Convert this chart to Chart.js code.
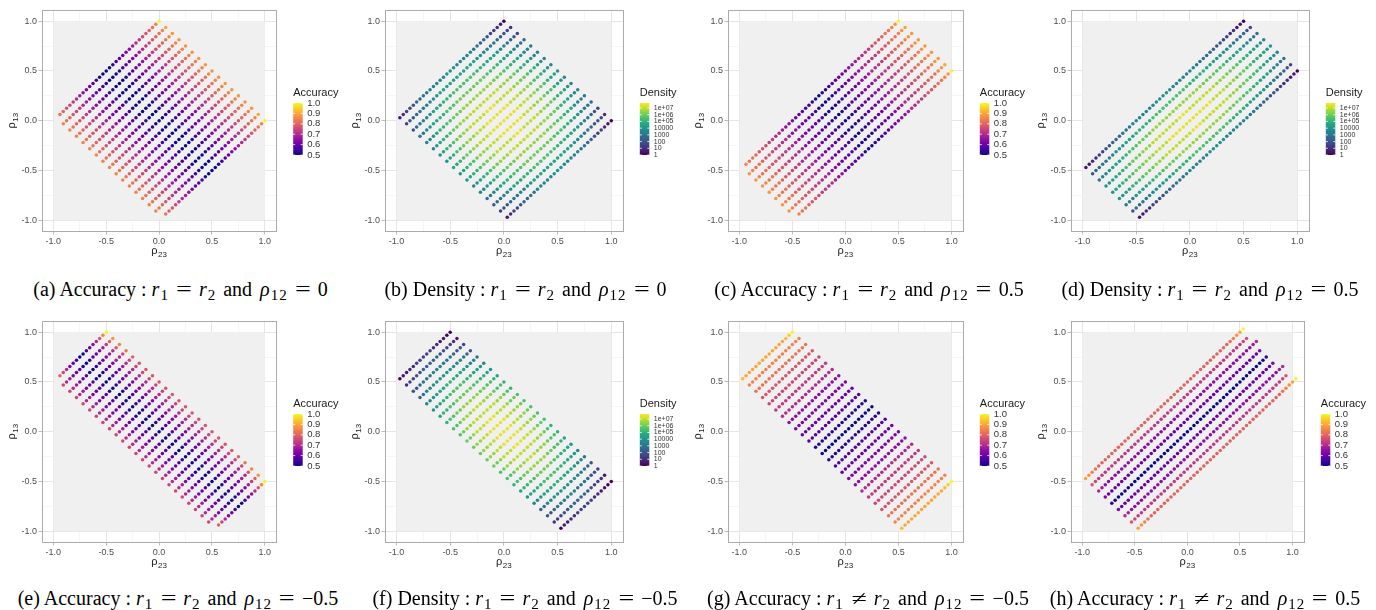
<!DOCTYPE html>
<html>
<head>
<meta charset="utf-8">
<script src="https://cdn.jsdelivr.net/npm/chart.js@4.4.1/dist/chart.umd.min.js"></script>
<style>
  body { margin: 0; background: #fff; width: 1376px; height: 610px; position: relative; overflow: hidden; }
  canvas { position: absolute; }
  .cap {
    position: absolute; white-space: nowrap; transform: translate(-50%, -50%);
    font-family: "Liberation Serif", serif; font-size: 20px; color: #000;
  }
  .cap sub { font-size: 15px; vertical-align: -4px; line-height: 0; margin-left: 1px; letter-spacing: 1px; }
  .cap .op { display: inline-block; width: 16px; text-align: center; margin: 0 7px; transform: scaleX(1.4); }
  .cap .w { margin: 0 8px 0 7px; }
</style>
</head>
<body>
<script>
// ---- values ----
// each string is one line of grid points (lower-left end first), one char per point, '.' = no point
// accuracy code: index in ACC_KEY -> 0.5 + 0.025 * index
const ACC_KEY = '0123456789abcdefghijk';
// density code: hex digit -> log10(density) = digit / 2
const DENS_KEY = '0123456789abcdef';

const accA = [
  '..dcba987654321000123456789abcdek',
  '.edcba987654321000123456789abcdeg',
  '.edcba987654321000123456789abcdef',
  '.edcba987654321000123456789abcdef',
  '.edcba987654321000123456789abcdef',
  '.edcba987654321000123456789abcdef',
  '.edcba987654321000123456789abcdef',
  '.edcba987654321000123456789abcdef',
  '.edcba987654321000123456789abcdef',
  '.edcba987654321000123456789abcdef',
  '.edcba987654321000123456789abcdef',
  '.edcba987654321000123456789abcdef',
  '.edcba987654321000123456789abcdef',
  '.edcba987654321000123456789abcdef',
  '.edcba987654321000123456789abcdef',
  '.edcba987654321000123456789abcdeg',
  '..dcba987654321000123456789abcdek'
];

const densB = [
  '.1233455667777788' + '8777776655433210',
  '.3445667788999999' + '9999988776654432',
  '.456778999aaabbbb' + 'bbbaaa9998776543',
  '.667899aabbbccccc' + 'ccccbbbaa9987665',
  '.7789aabbcccddddd' + 'ddddcccbbaa98776',
  '.789aabccdddeeeee' + 'eeeedddccbaa9877',
  '.89aabccddeeeeeff' + 'feeeeeddccbaa987',
  '.89abbcdddeeeffff' + 'fffeeedddcbba987',
  '.99abccddeeefffff' + 'ffffeeeddccba998',
  '.89abbcdddeeeffff' + 'fffeeedddcbba987',
  '.89aabccddeeeeeff' + 'feeeeeddccbaa987',
  '.789aabccdddeeeee' + 'eeeedddccbaa9877',
  '.7789aabbcccddddd' + 'ddddcccbbaa98776',
  '.667899aabbbccccc' + 'ccccbbbaa9987665',
  '.456778999aaabbbb' + 'bbbaaa9998776543',
  '.3445667788999999' + '9999988776654432',
  '.1233455667777788' + '8777776655433210'
];

const accC = [
  '..eddcbba9988766544332110' + '112334456678899abbcddefk',
  '.feddcbba9988766544332110' + '112334456678899abbcddefg',
  '.feddcbba9988766544332110' + '112334456678899abbcddeff',
  '.feddcbba9988766544332110' + '112334456678899abbcddeff',
  '.feddcbba9988766544332110' + '112334456678899abbcddeff',
  '.feddcbba9988766544332110' + '112334456678899abbcddeff',
  '.feddcbba9988766544332110' + '112334456678899abbcddeff',
  '.feddcbba9988766544332110' + '112334456678899abbcddefg',
  '..eddcbba9988766544332110' + '112334456678899abbcddefk'
];

const densD = [
  '.112233445556667777777888' + '887777777666555443322110',
  '.4556677888999aaaaabbbbbb' + 'bbbbbaaaaa99988877665543',
  '.6778999aabbbccccdddddddd' + 'dddddddccccbbbaa99987766',
  '.8899aabbcccdddeeeeeeeeff' + 'feeeeeeeedddcccbbaa99887',
  '.899aabbcccdddeeeefffffff' + 'ffffffeeeedddcccbbaa9988',
  '.8899aabbcccdddeeeeeeeeff' + 'feeeeeeeedddcccbbaa99887',
  '.6778999aabbbccccdddddddd' + 'dddddddccccbbbaa99987766',
  '.4556677888999aaaaabbbbbb' + 'bbbbbaaaaa99988877665543',
  '.112233445556667777777888' + '887777777666555443322110'
];

const accE = [
  '..ca8542002468bek',
  '.a8754310134579cf',
  '.a8754310134578be',
  '.a8754310134578ad',
  '.a8754310134578ac',
  '.a8754310134578ab',
  '.a8754310134578ab',
  '.a8754310134578ab',
  '.a8754310134578ab',
  '.a8754310134578ab',
  '.a8754310134578ab',
  '.a8754310134578ab',
  '.a8754310134578ab',
  '.a8754310134578ab',
  '.a8754310134578ab',
  '.a8754310134578ab',
  '.a8754310134578ab',
  '.a8754310134578ab',
  '.a8754310134578ab',
  '.a8754310134578ab',
  '.a8754310134578ac',
  '.a8754310134578ad',
  '.a8754310134578be',
  '.a8754310134579cf',
  '..ca8542002468bek'
];

const densF = [
  '.0112233333221100',
  '.2334455555443321',
  '.4456667776665443',
  '.5677888888877654',
  '.778999aaa9998776',
  '.899aabbbbbaa9987',
  '.9aabbcccccbbaa98',
  '.abbccdddddccbba9',
  '.bbcdddeeedddcbba',
  '.bcddeeeeeeeddcba',
  '.ccdeeefffeeedccb',
  '.cddeefffffeeddcb',
  '.cddeefffffeeddcb',
  '.cddeefffffeeddcb',
  '.ccdeeefffeeedccb',
  '.bcddeeeeeeeddcba',
  '.bbcdddeeedddcbba',
  '.abbccdddddccbba9',
  '.9aabbcccccbbaa98',
  '.899aabbbbbaa9987',
  '.778999aaa9998776',
  '.5677888888877654',
  '.4456667776665443',
  '.2334455555443321',
  '.0112233333221100'
];

const accG = [
  '.hgggggggggggghik',
  '.eeeeeeeeeeeeeeee',
  '.dddddddddddddddd',
  '.bbbbbbbbbbbbbbbb',
  '.aaaaaaaaaaaaaaaa',
  '.9999999999999999',
  '.8888888888888888',
  '.6666666666666666',
  '.5555555555555555',
  '.4444444444444444',
  '.3333333333333333',
  '.1111111111111111',
  '.0000000000000000',
  '.1111111111111111',
  '.3333333333333333',
  '.4444444444444444',
  '.5555555555555555',
  '.6666666666666666',
  '.8888888888888888',
  '.9999999999999999',
  '.aaaaaaaaaaaaaaaa',
  '.bbbbbbbbbbbbbbbb',
  '.dddddddddddddddd',
  '.eeeeeeeeeeeeeeee',
  '.hgggggggggggghik'
];

const accH = [
  '.gfedccccccccccccccccccccccccccccccccccccccccdefgk',
  '.ba99999999999999999999999999999999999999999999ab',
  '.8766666666666666666666666666666666666666666666678',
  '.544444444444444444444444444444444444444444444445',
  '.100000000000000000000000000000000000000000000001',
  '.544444444444444444444444444444444444444444444445',
  '.8766666666666666666666666666666666666666666666678',
  '.ba99999999999999999999999999999999999999999999ab',
  '.gfedccccccccccccccccccccccccccccccccccccccccdefgk'
];

const RHO12 = { a: 0, b: 0, c: 0.5, d: 0.5, e: -0.5, f: -0.5, g: -0.5, h: 0.5 };
const GRID_TICKS = [-1, -0.75, -0.5, -0.25, 0, 0.25, 0.5, 0.75, 1];
const ACC_TICKS = [0.5, 0.6, 0.7, 0.8, 0.9, 1.0];
const DENS_TICKS = [1, 10, 100, 1000, 10000, 1e5, 1e6, 1e7];
const DENS_LABELS = ['1', '10', '100', '1000', '10000', '1e+05', '1e+06', '1e+07'];
const DENS_MAX_LOG = 7.75;
const EQ = '<span class="op">=</span>';
const NE = '<span class="op">≠</span>';
const R1 = '<i>r</i><sub>1</sub>', R2 = '<i>r</i><sub>2</sub>', RHO = '<i>ρ</i><sub>12</sub>';
const AND = '<span class="w">and</span>';
const CAPTIONS = [
  `(a) Accuracy : ${R1}${EQ}${R2}${AND}${RHO}${EQ}0`,
  `(b) Density : ${R1}${EQ}${R2}${AND}${RHO}${EQ}0`,
  `(c) Accuracy : ${R1}${EQ}${R2}${AND}${RHO}${EQ}0.5`,
  `(d) Density : ${R1}${EQ}${R2}${AND}${RHO}${EQ}0.5`,
  `(e) Accuracy : ${R1}${EQ}${R2}${AND}${RHO}${EQ}−0.5`,
  `(f) Density : ${R1}${EQ}${R2}${AND}${RHO}${EQ}−0.5`,
  `(g) Accuracy : ${R1}${NE}${R2}${AND}${RHO}${EQ}−0.5`,
  `(h) Accuracy : ${R1}${NE}${R2}${AND}${RHO}${EQ}0.5`
];

// grid spacing of the parameter sweep
const STEP = 1 / 32;
const LINE_GAP = 1 / 16;

const PLASMA = ['#0d0887', '#41049d', '#6a00a8', '#8f0da4', '#b12a90', '#cc4778', '#e16462', '#f2844b', '#fca636', '#fcce25', '#f0f921'];
const VIRIDIS = ['#440154', '#482475', '#414487', '#355f8d', '#2a788e', '#21918c', '#22a884', '#44bf70', '#7ad151', '#bddf26', '#fde725'];

function hexToRgb(h) {
  return [parseInt(h.slice(1, 3), 16), parseInt(h.slice(3, 5), 16), parseInt(h.slice(5, 7), 16)];
}

function ramp(stops, f) {
  f = Math.max(0, Math.min(1, f));
  const p = f * (stops.length - 1);
  const i = Math.min(Math.floor(p), stops.length - 2);
  const u = p - i;
  const a = hexToRgb(stops[i]), b = hexToRgb(stops[i + 1]);
  const c = a.map((v, j) => Math.round(v + (b[j] - v) * u));
  return `rgb(${c[0]},${c[1]},${c[2]})`;
}

// layout: canvas left/top, right edge of the panel box (canvas coords), caption centre
const PANELS = [
  { key: 'a', kind: 'acc',  rows: accA,  left: 0,    top: 0,   R: 276.7, title: 'Accuracy', capX: 180.5, capY: 289 },
  { key: 'b', kind: 'dens', rows: densB, left: 343,  top: 0,   R: 280.3, title: 'Density',  capX: 525.5, capY: 289 },
  { key: 'c', kind: 'acc',  rows: accC,  left: 686,  top: 0,   R: 277.3, title: 'Accuracy', capX: 869,   capY: 289 },
  { key: 'd', kind: 'dens', rows: densD, left: 1029, top: 0,   R: 280.3, title: 'Density',  capX: 1210,  capY: 289 },
  { key: 'e', kind: 'acc',  rows: accE,  left: 0,    top: 311, R: 276.7, title: 'Accuracy', capX: 178,   capY: 598 },
  { key: 'f', kind: 'dens', rows: densF, left: 343,  top: 311, R: 280.3, title: 'Density',  capX: 525,   capY: 598 },
  { key: 'g', kind: 'acc',  rows: accG,  left: 686,  top: 311, R: 277.3, title: 'Accuracy', capX: 868,   capY: 598 },
  { key: 'h', kind: 'acc',  rows: accH,  left: 1029, top: 311, R: 275.3, title: 'Accuracy', capX: 1205,  capY: 598 }
];

const CW = 345, CH = 262, AREA_L = 41.5, AREA_T = 10, XAXIS_H = 30.5;
const LIM = 1.112;

function buildPoints(p) {
  const rho12 = RHO12[p.key];
  const pts = [], cols = [];
  p.rows.forEach((row, k) => {
    [...row].forEach((ch, t) => {
      if (ch === '.') return;
      pts.push({ x: -1 + k * LINE_GAP + t * STEP, y: -rho12 - k * LINE_GAP + t * STEP });
      if (p.kind === 'acc') {
        const acc = 0.5 + 0.025 * ACC_KEY.indexOf(ch);
        cols.push(ramp(PLASMA, (acc - 0.5) / 0.5));
      } else {
        const lg = DENS_KEY.indexOf(ch) / 2;
        cols.push(ramp(VIRIDIS, lg / DENS_MAX_LOG));
      }
    });
  });
  return { pts, cols };
}

function isMajor(v) {
  return Math.abs(v * 2 - Math.round(v * 2)) < 1e-6;
}

function drawRho(ctx, sub, cx, baseY) {
  ctx.font = '11px "Liberation Sans"';
  const w1 = ctx.measureText('ρ').width;
  ctx.font = '8px "Liberation Sans"';
  const w2 = ctx.measureText(sub).width;
  const x = cx - (w1 + w2 + 0.5) / 2;
  ctx.textAlign = 'left';
  ctx.textBaseline = 'alphabetic';
  ctx.font = '11px "Liberation Sans"';
  ctx.fillText('ρ', x, baseY);
  ctx.font = '8px "Liberation Sans"';
  ctx.fillText(sub, x + w1 + 0.5, baseY + 2.5);
}

const panelDecor = {
  id: 'panelDecor',
  beforeDatasetsDraw(chart) {
    const { ctx, scales: { x, y } } = chart;
    const x1 = x.getPixelForValue(-1), x2 = x.getPixelForValue(1);
    const y1 = y.getPixelForValue(1), y2 = y.getPixelForValue(-1);
    ctx.save();
    ctx.fillStyle = '#F0F0F0';
    ctx.fillRect(x1, y1, x2 - x1, y2 - y1);
    ctx.restore();
  },
  afterDraw(chart, args, opts) {
    const { ctx, chartArea: a } = chart;
    ctx.save();
    // panel border
    ctx.strokeStyle = '#ABABAB';
    ctx.lineWidth = 1;
    ctx.strokeRect(Math.round(a.left) + 0.5, Math.round(a.top) + 0.5,
      Math.round(a.right - a.left) - 1, Math.round(a.bottom - a.top) - 1);

    // axis titles
    ctx.fillStyle = '#1A1A1A';
    drawRho(ctx, '23', (a.left + a.right) / 2, a.bottom + 22.5);
    ctx.save();
    ctx.translate(a.left - 26.5, (a.top + a.bottom) / 2);
    ctx.rotate(-Math.PI / 2);
    drawRho(ctx, '13', 0, 0);
    ctx.restore();

    // colour bar legend
    const lx = a.right + 16.5, bt = a.top + 93, bh = 52, bw = 9.5;
    ctx.font = '11px "Liberation Sans"';
    ctx.fillStyle = '#1A1A1A';
    ctx.textAlign = 'left';
    ctx.textBaseline = 'middle';
    ctx.fillText(opts.title, lx, a.top + 83);
    const stops = opts.kind === 'acc' ? PLASMA : VIRIDIS;
    const grad = ctx.createLinearGradient(0, bt + bh, 0, bt);
    stops.forEach((c, i) => grad.addColorStop(i / (stops.length - 1), c));
    ctx.fillStyle = grad;
    ctx.fillRect(lx, bt, bw, bh);

    let marks;
    if (opts.kind === 'acc') {
      marks = ACC_TICKS.map(v => ({ f: (v - 0.5) / 0.5, label: v.toFixed(1) }));
      ctx.font = '9.5px "Liberation Sans"';
    } else {
      marks = DENS_TICKS.map((v, i) => ({ f: Math.log10(v) / DENS_MAX_LOG, label: DENS_LABELS[i] }));
      ctx.font = '7px "Liberation Sans"';
    }
    marks.forEach(m => {
      const yy = bt + bh * (1 - m.f);
      ctx.strokeStyle = '#FFFFFF';
      ctx.lineWidth = 0.8;
      ctx.beginPath();
      ctx.moveTo(lx, yy); ctx.lineTo(lx + 2, yy);
      ctx.moveTo(lx + bw - 2, yy); ctx.lineTo(lx + bw, yy);
      ctx.stroke();
      ctx.fillStyle = '#333333';
      ctx.fillText(m.label, lx + bw + 4.5, yy);
    });
    ctx.restore();
  }
};

function axisOptions(isX) {
  return {
    type: 'linear',
    min: -LIM,
    max: LIM,
    afterBuildTicks: s => { s.ticks = GRID_TICKS.map(v => ({ value: v })); },
    afterFit: s => { if (isX) s.height = XAXIS_H; else s.width = AREA_L; },
    border: { display: false },
    grid: {
      color: c => (c.tick && isMajor(c.tick.value)) ? '#DEDEDE' : '#EDEDED',
      lineWidth: c => (c.tick && isMajor(c.tick.value)) ? 0.8 : 0.5,
      tickLength: 3,
      tickColor: c => (c.tick && isMajor(c.tick.value)) ? '#ABABAB' : 'rgba(0,0,0,0)',
      tickWidth: 0.8
    },
    ticks: {
      autoSkip: false,
      maxRotation: 0,
      padding: 1.5,
      color: '#4D4D4D',
      font: { family: 'Liberation Sans', size: 9 },
      callback: v => isMajor(v) ? v.toFixed(1) : ''
    }
  };
}

PANELS.forEach((p, i) => {
  const cv = document.createElement('canvas');
  cv.width = CW; cv.height = CH;
  cv.style.left = p.left + 'px';
  cv.style.top = p.top + 'px';
  document.body.appendChild(cv);

  const { pts, cols } = buildPoints(p);
  new Chart(cv, {
    type: 'scatter',
    data: {
      datasets: [{
        data: pts,
        pointBackgroundColor: cols,
        pointBorderWidth: 0,
        pointRadius: 1.75,
        pointHoverRadius: 1.75
      }]
    },
    options: {
      responsive: false,
      animation: false,
      events: [],
      layout: { padding: { left: 0, right: CW - p.R, top: AREA_T, bottom: 0 } },
      plugins: {
        legend: { display: false },
        tooltip: { enabled: false },
        panelDecor: { title: p.title, kind: p.kind }
      },
      scales: { x: axisOptions(true), y: axisOptions(false) }
    },
    plugins: [panelDecor]
  });

  const cap = document.createElement('div');
  cap.className = 'cap';
  cap.innerHTML = CAPTIONS[i];
  cap.style.left = p.capX + 'px';
  cap.style.top = p.capY + 'px';
  document.body.appendChild(cap);
});
</script>
</body>
</html>
